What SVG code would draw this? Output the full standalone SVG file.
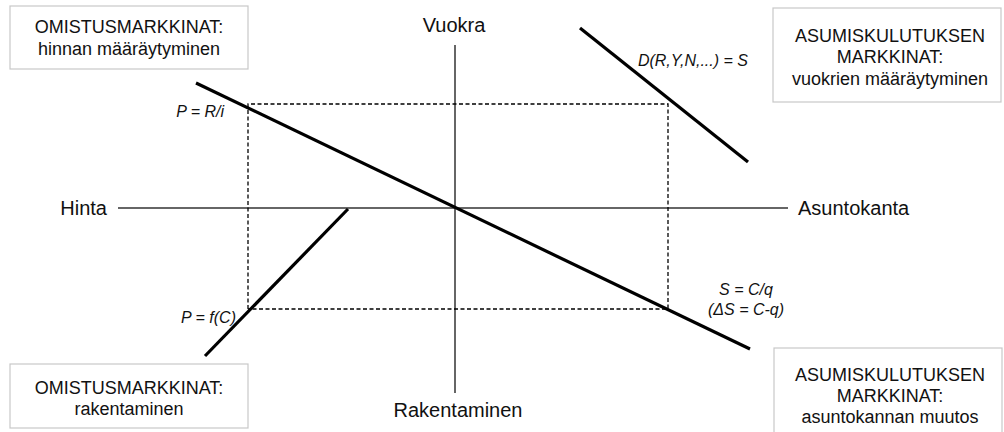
<svg xmlns="http://www.w3.org/2000/svg" width="1004" height="432" viewBox="0 0 1004 432">
<style>
.box{fill:#fff;stroke:#c8c8c8;stroke-width:1.2}
.bt{font-family:"Liberation Sans",Arial,sans-serif;font-size:18px;fill:#111;text-anchor:middle}
.ax{font-family:"Liberation Sans",Arial,sans-serif;font-size:20px;fill:#111}
.lb{font-family:"Liberation Sans",Arial,sans-serif;font-size:16px;font-style:italic;fill:#111}
.axis{stroke:#333;stroke-width:1.5;fill:none}
.curve{stroke:#000;stroke-width:3.2;fill:none}
.dash{stroke:#000;stroke-width:1.3;stroke-dasharray:4,2.5;fill:none}
</style>
<rect width="1004" height="432" fill="#fff"/>
<g id="connectors">
<line class="axis" x1="118" y1="208" x2="788" y2="208"/>
<line class="axis" x1="455" y1="45" x2="455" y2="393"/>
<polyline class="dash" points="248,309 248,104 668,104 668,309 248,309"/>
<line class="curve" x1="196" y1="83" x2="750" y2="349"/>
<line class="curve" x1="348" y1="209" x2="205" y2="356"/>
<line class="curve" x1="580" y1="28" x2="748" y2="162"/>
</g>
<g id="box-omistus-hinta">
<rect class="box" x="10" y="6" width="238" height="63"/>
<text class="bt" x="129" y="33">OMISTUSMARKKINAT:</text>
<text class="bt" x="129" y="55">hinnan määräytyminen</text>
</g>
<g id="box-asumis-vuokrat">
<rect class="box" x="773" y="8" width="228" height="94"/>
<text class="bt" x="890" y="42">ASUMISKULUTUKSEN</text>
<text class="bt" x="890" y="63">MARKKINAT:</text>
<text class="bt" x="890" y="85">vuokrien määräytyminen</text>
</g>
<g id="box-omistus-rakentaminen">
<rect class="box" x="10" y="364" width="238" height="64"/>
<text class="bt" x="129" y="394">OMISTUSMARKKINAT:</text>
<text class="bt" x="129" y="415">rakentaminen</text>
</g>
<g id="box-asumis-kanta">
<rect class="box" x="774" y="348" width="228" height="90"/>
<text class="bt" x="890" y="381">ASUMISKULUTUKSEN</text>
<text class="bt" x="890" y="402">MARKKINAT:</text>
<text class="bt" x="890" y="423">asuntokannan muutos</text>
</g>
<g id="axis-labels">
<text class="ax" x="454" y="32" text-anchor="middle">Vuokra</text>
<text class="ax" x="458" y="417" text-anchor="middle">Rakentaminen</text>
<text class="ax" x="107" y="215" text-anchor="end">Hinta</text>
<text class="ax" x="798" y="215">Asuntokanta</text>
</g>
<g id="curve-labels">
<text class="lb" x="748" y="66" text-anchor="end">D(R,Y,N,...) = S</text>
<text class="lb" x="224" y="117" text-anchor="end">P = R/i</text>
<text class="lb" x="236" y="323" text-anchor="end">P = f(C)</text>
<text class="lb" x="746" y="295" text-anchor="middle">S = C/q</text>
<text class="lb" x="746" y="315" text-anchor="middle">(ΔS = C-q)</text>
</g>
</svg>
